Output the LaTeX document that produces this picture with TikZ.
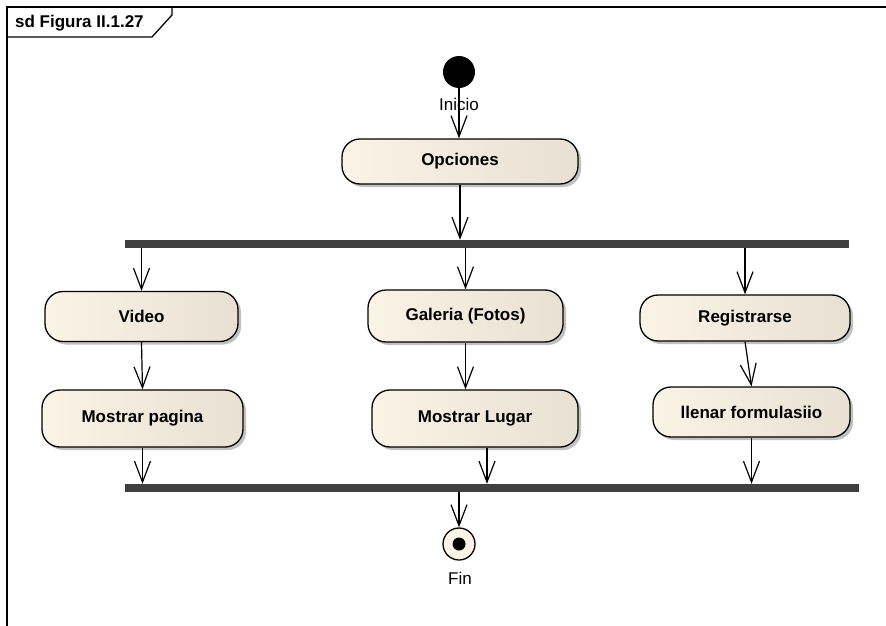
\documentclass[tikz,border=0pt]{standalone}
\usepackage{fontspec}
\setmainfont{Liberation Sans}
\usetikzlibrary{arrows.meta,shadows}
\definecolor{actL}{RGB}{251,243,230}
\definecolor{actR}{RGB}{232,224,211}
\definecolor{barc}{RGB}{64,64,64}
\tikzset{
  act/.style={draw=black, line width=1.3pt, rounded corners=18pt,
    left color=actL, right color=actR,
    drop shadow={shadow xshift=3pt, shadow yshift=-3pt, fill=black!30, opacity=0.8},
    font=\fontsize{17}{20}\selectfont\bfseries, inner sep=0pt},
  syncbar/.style={fill=barc, draw=none, inner sep=0pt, minimum height=8pt},
  flow/.style={line width=1.2pt, -{Straight Barb[length=21pt,width=16pt,line width=1.2pt]}},
  lbl/.style={font=\fontsize{17}{20}\selectfont, inner sep=0pt}
}
\begin{document}
\begin{tikzpicture}[x=1pt,y=-1pt]
  \useasboundingbox (0,0) rectangle (886,626);
  \fill[white] (0,0) rectangle (886,626);
  % diagram frame and its name tab
  \draw[line width=1.3pt] (7,626) -- (7,7) -- (886,7);
  \draw[line width=1.3pt] (7,37) -- (152,37) -- (172,15) -- (172,7);
  \node[anchor=west, inner sep=0pt, font=\fontsize{17}{20}\selectfont\bfseries] (title) at (15,23) {sd Figura II.1.27};

  % start
  \node[circle, fill=black, minimum size=32pt, inner sep=0pt] (start) at (459,72) {};
  \node[lbl] (startlbl) at (459,104) {Inicio};
  \node[act, minimum width=236pt, minimum height=45pt] (opc) at (460,161.5) {Opciones};

  % fork
  \node[syncbar, minimum width=724pt] (fork) at (487,244) {};

  % three branches
  \node[act, minimum width=193pt, minimum height=50pt] (video) at (141.5,316.5) {Video};
  \node[act, minimum width=201pt, minimum height=57pt] (pag) at (142.5,418.5) {Mostrar pagina};
  \node[act, minimum width=195pt, minimum height=52pt] (gal) at (465.5,316) {Galeria (Fotos)};
  \node[act, minimum width=206pt, minimum height=57pt] (lugar) at (475,418.5) {Mostrar Lugar};
  \node[act, minimum width=210pt, minimum height=46pt] (reg) at (745,318) {Registrarse};
  \node[act, minimum width=197pt, minimum height=50pt] (form) at (751.5,412) {llenar formulasiio};

  % join
  \node[syncbar, minimum width=734pt] (join) at (492,488) {};

  % end
  \node[circle, draw=black, line width=1.3pt, fill=actL, minimum size=32pt, inner sep=0pt] (fin) at (459,544) {};
  \node[circle, fill=black, minimum size=13pt, inner sep=0pt] (findot) at (fin.center) {};
  \node[lbl] (finlbl) at (460,578) {Fin};

  % flows
  \draw[flow] (start.south) -- (start.south |- opc.north);
  \draw[flow] (opc.south) -- (opc.south |- fork.north);
  \draw[flow] (fork.south -| video.north) -- (video.north);
  \draw[flow] (fork.south -| gal.north) -- (gal.north);
  \draw[flow] (fork.south -| reg.north) -- (reg.north);
  \draw[flow] (video.south) -- (pag.north);
  \draw[flow] (gal.south) -- (gal.south |- lugar.north);
  \draw[flow] (reg.south) -- (form.north);
  \draw[flow] (pag.south) -- (pag.south |- join.north);
  \draw[flow] ([xshift=12pt]lugar.south) -- ([xshift=12pt]lugar.south |- join.north);
  \draw[flow] (form.south) -- (form.south |- join.north);
  \draw[flow] (join.south -| fin.north) -- (fin.north);
\end{tikzpicture}
\end{document}
